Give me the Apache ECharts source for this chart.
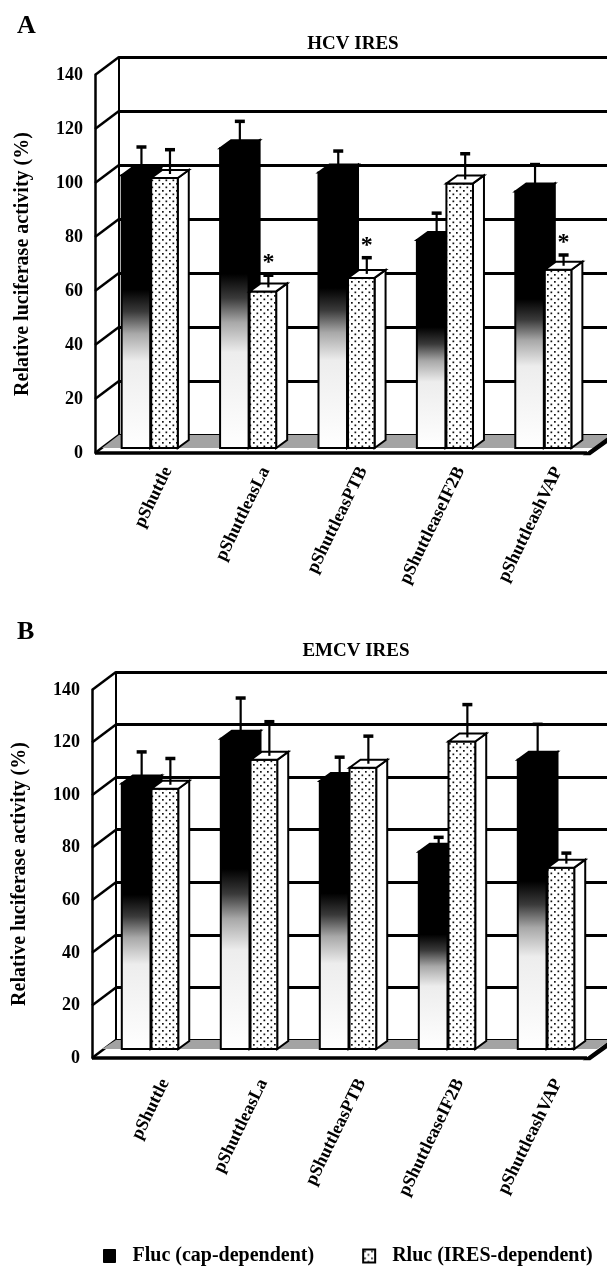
<!DOCTYPE html>
<html>
<head>
<meta charset="utf-8">
<title>HCV / EMCV IRES luciferase activity</title>
<script src="https://cdn.jsdelivr.net/npm/echarts@6/dist/echarts.min.js"></script>
<style>
  html, body { margin: 0; padding: 0; background: #fff; }
  #chart { width: 607px; height: 1269px; }
</style>
</head>
<body>
<div id="chart"></div>
<script>
var constructs = ['pShuttle', 'pShuttleasLa', 'pShuttleasPTB', 'pShuttleaseIF2B', 'pShuttleashVAP'];
var yTicks = [0, 20, 40, 60, 80, 100, 120, 140];

// A - HCV IRES
var hcvFluc = [101, 111, 102, 77, 95];
var hcvFlucErr = [9, 8.5, 6.5, 8.5, 8.5];
var hcvRluc = [100, 58, 63, 98, 66];
var hcvRlucErr = [9, 4.5, 6, 9.5, 4];
var hcvStar = [0, 1, 1, 0, 1];

// B - EMCV IRES
var emcvFluc = [101, 118, 102, 75, 110];
var emcvFlucErr = [10.5, 14, 7.5, 4, 12];
var emcvRluc = [99, 110, 107, 117, 69];
var emcvRlucErr = [10, 13, 10.5, 12.5, 4];
var emcvStar = [0, 0, 0, 0, 0];

var FONT = "'Liberation Serif', 'DejaVu Serif', serif";
var WALL = { x: 24, y: 18 };   // depth of the 3D box
var DEPTH = { x: 11, y: 8 };   // depth of one bar

// dotted fill of the Rluc bars
var dotCanvas = document.createElement('canvas');
dotCanvas.width = 7; dotCanvas.height = 7;
(function () {
    var c = dotCanvas.getContext('2d');
    c.fillStyle = '#fff'; c.fillRect(0, 0, 7, 7);
    c.fillStyle = '#111';
    c.fillRect(1, 1, 1.7, 1.7);
    c.fillRect(4.5, 4.5, 1.7, 1.7);
})();
var dots = { image: dotCanvas, repeat: 'repeat' };

var flucFill = {
    type: 'linear', x: 0, y: 0, x2: 0, y2: 1,
    colorStops: [
        { offset: 0, color: '#000' },
        { offset: 0.42, color: '#000' },
        { offset: 0.50, color: '#3a3a3a' },
        { offset: 0.58, color: '#a8a8a8' },
        { offset: 0.68, color: '#ededed' },
        { offset: 1, color: '#fff' }
    ]
};

function wallItem(params, api) {
    var p = api.coord([0, api.value(1)]);
    var L = p[0] - api.size([1, 0])[0] / 2;
    return {
        type: 'line',
        shape: { x1: L, y1: p[1], x2: L + WALL.x, y2: p[1] - WALL.y },
        style: { stroke: '#000', lineWidth: 2.5 }
    };
}

function floorItem(off) {
    return function (params, api) {
        var bw = api.size([1, 0])[0];
        var a = api.coord([0, 0]), b = api.coord([constructs.length - 1, 0]);
        var L = a[0] - bw / 2, R = b[0] + bw / 2, y = a[1];
        return {
            type: 'group',
            children: [
                { type: 'polygon', shape: { points: [[L + off.x, y - off.y], [R + off.x, y - off.y], [R + WALL.x, y - WALL.y], [L + WALL.x, y - WALL.y]] },
                  style: { fill: '#a3a3a3' } },
                { type: 'line', shape: { x1: L, y1: y, x2: R, y2: y }, style: { stroke: '#000', lineWidth: 3.5 } },
                { type: 'polygon', shape: { points: [[R - 2, y + 1.5], [R + WALL.x + 2, y - WALL.y - 1], [R + WALL.x + 2, y - WALL.y + 3], [R + 3, y + 1.5]] },
                  style: { fill: '#000', stroke: '#000', lineWidth: 1.5 } }
            ]
        };
    };
}

function barItem(kind, off) {
    return function (params, api) {
        var i = api.value(0), v = api.value(1), e = api.value(2), star = api.value(3);
        var top = api.coord([i, v]), base = api.coord([i, 0]);
        var bw = api.size([1, 0])[0];
        var x0 = top[0] + (kind === 'fluc' ? -0.30 : 0.0) * bw + off.x;
        var x1 = top[0] + (kind === 'fluc' ? -0.01 : 0.27) * bw + off.x;
        var yt = top[1] - off.y, yb = base[1] - off.y;
        var faceFill = kind === 'fluc' ? flucFill : dots;
        var boxFill = kind === 'fluc' ? '#000' : '#fff';
        var cx = (x0 + x1) / 2 + DEPTH.x / 2;
        var ym = yt - DEPTH.y / 2;
        var yc = api.coord([i, v + e])[1] - off.y - DEPTH.y / 2;
        var kids = [
            { type: 'polygon', shape: { points: [[x1, yt], [x1 + DEPTH.x, yt - DEPTH.y], [x1 + DEPTH.x, yb - DEPTH.y], [x1, yb]] },
              style: { fill: boxFill, stroke: '#000', lineWidth: 2 } },
            { type: 'rect', shape: { x: x0, y: yt, width: x1 - x0, height: yb - yt },
              style: { fill: faceFill, stroke: '#000', lineWidth: 2 } },
            { type: 'polygon', shape: { points: [[x0, yt], [x1, yt], [x1 + DEPTH.x, yt - DEPTH.y], [x0 + DEPTH.x, yt - DEPTH.y]] },
              style: { fill: boxFill, stroke: '#000', lineWidth: 2 } },
            { type: 'line', shape: { x1: cx, y1: ym, x2: cx, y2: yc }, style: { stroke: '#000', lineWidth: 2.2 } },
            { type: 'line', shape: { x1: cx - 5, y1: yc, x2: cx + 5, y2: yc }, style: { stroke: '#000', lineWidth: 3.5 } }
        ];
        if (star) {
            kids.push({ type: 'text', x: cx, y: yc - 12,
                style: { text: '*', fill: '#000', font: 'bold 24px ' + FONT, align: 'center', verticalAlign: 'middle' } });
        }
        return { type: 'group', children: kids };
    };
}

function rows(vals, errs, stars) {
    return constructs.map(function (c, i) { return [i, vals[i], errs[i], stars ? stars[i] : 0]; });
}

// one panel = back wall grid + front grid
var panels = [
    { front: { left: 95, top: 75, width: 492, height: 378 }, bar: { x: 7, y: 5 }, labelMargin: 33,
      fluc: rows(hcvFluc, hcvFlucErr), rluc: rows(hcvRluc, hcvRlucErr, hcvStar) },
    { front: { left: 92, top: 690, width: 495, height: 368 }, bar: { x: 10, y: 9 }, labelMargin: 40,
      fluc: rows(emcvFluc, emcvFlucErr), rluc: rows(emcvRluc, emcvRlucErr, emcvStar) }
];

var grid = [], xAxis = [], yAxis = [], series = [];
panels.forEach(function (p, k) {
    var g = p.front;
    var back = grid.length, front = back + 1;
    grid.push({ left: g.left + WALL.x, top: g.top - WALL.y, width: g.width, height: g.height });
    grid.push({ left: g.left, top: g.top, width: g.width, height: g.height });

    xAxis.push({ gridIndex: back, type: 'category', data: constructs,
        axisLine: { show: false }, axisTick: { show: false },
        axisLabel: { rotate: 64, margin: p.labelMargin, interval: 0, color: '#000',
            fontFamily: FONT, fontWeight: 'bold', fontSize: 18 } });
    xAxis.push({ gridIndex: front, type: 'category', data: constructs, show: false });

    yAxis.push({ gridIndex: back, type: 'value', min: 0, max: 140, interval: 20,
        axisLabel: { show: false }, axisTick: { show: false },
        axisLine: { show: true, lineStyle: { color: '#000', width: 2 } },
        splitLine: { show: true, lineStyle: { color: '#000', width: 3 } } });
    yAxis.push({ gridIndex: front, type: 'value', min: 0, max: 140, interval: 20,
        name: 'Relative luciferase activity (%)', nameLocation: 'middle', nameGap: 62,
        nameTextStyle: { color: '#000', fontFamily: FONT, fontWeight: 'bold', fontSize: 20 },
        axisLabel: { color: '#000', fontFamily: FONT, fontWeight: 'bold', fontSize: 18, margin: 12 },
        axisTick: { show: false },
        axisLine: { show: true, lineStyle: { color: '#000', width: 2.5 } },
        splitLine: { show: false } });

    series.push({ type: 'custom', name: 'wall' + k, xAxisIndex: front, yAxisIndex: front,
        silent: true, renderItem: wallItem, data: yTicks.map(function (t) { return [0, t]; }) });
    series.push({ type: 'custom', name: 'floor' + k, xAxisIndex: front, yAxisIndex: front,
        silent: true, renderItem: floorItem(p.bar), data: [[0, 0]] });
    series.push({ type: 'custom', name: 'Fluc (cap-dependent)', xAxisIndex: front, yAxisIndex: front,
        itemStyle: { color: '#000' }, renderItem: barItem('fluc', p.bar), data: p.fluc });
    series.push({ type: 'custom', name: 'Rluc (IRES-dependent)', xAxisIndex: front, yAxisIndex: front,
        itemStyle: { color: '#fff' }, renderItem: barItem('rluc', p.bar), data: p.rluc });
});

var chart = echarts.init(document.getElementById('chart'));
chart.setOption({
    backgroundColor: '#fff',
    animation: false,
    title: [
        { text: 'A', left: 12, top: 8, textStyle: { fontFamily: FONT, fontWeight: 'bold', fontSize: 26, color: '#000' } },
        { text: 'HCV IRES', left: 348, top: 30, textAlign: 'center', textStyle: { fontFamily: FONT, fontWeight: 'bold', fontSize: 19, color: '#000' } },
        { text: 'B', left: 12, top: 614, textStyle: { fontFamily: FONT, fontWeight: 'bold', fontSize: 26, color: '#000' } },
        { text: 'EMCV IRES', left: 351, top: 637, textAlign: 'center', textStyle: { fontFamily: FONT, fontWeight: 'bold', fontSize: 19, color: '#000' } }
    ],
    legend: {
        left: 98, top: 1241, itemWidth: 12, itemHeight: 13, itemGap: 48, selectedMode: false,
        textStyle: { fontFamily: FONT, fontWeight: 'bold', fontSize: 20, color: '#000', padding: [0, 0, 0, 12] },
        data: [
            { name: 'Fluc (cap-dependent)', icon: 'rect', itemStyle: { color: '#000', borderColor: '#000', borderWidth: 1 } },
            { name: 'Rluc (IRES-dependent)', icon: 'rect', itemStyle: { color: dots, borderColor: '#000', borderWidth: 2 } }
        ]
    },
    grid: grid,
    xAxis: xAxis,
    yAxis: yAxis,
    series: series
});
</script>
</body>
</html>
